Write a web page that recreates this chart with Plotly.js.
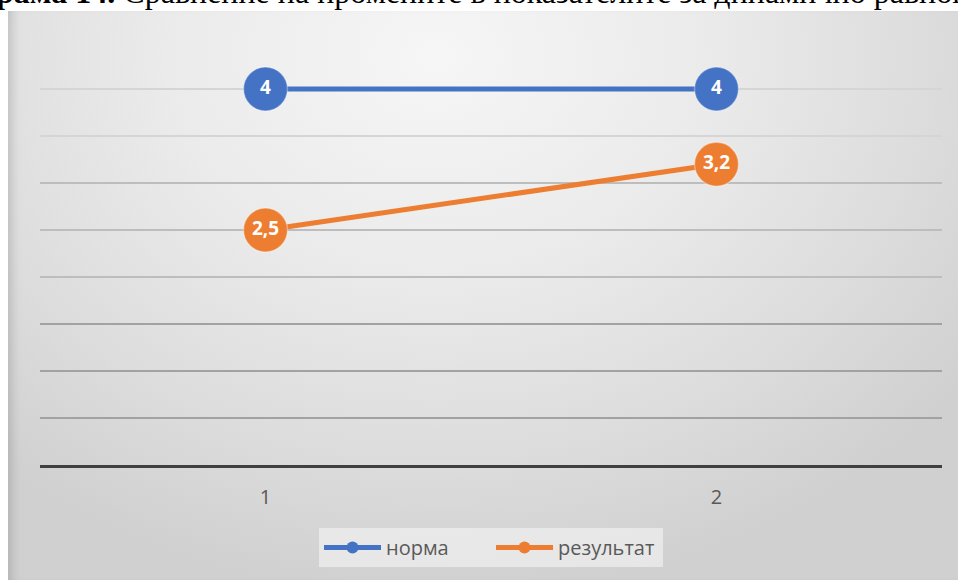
<!DOCTYPE html>
<html>
<head>
<meta charset="utf-8">
<script src="https://cdn.plot.ly/plotly-3.0.1.min.js"></script>
<style>
  html, body { margin: 0; padding: 0; background: #ffffff; }
  #wrap { position: relative; width: 958px; height: 580px; overflow: hidden; }
  #bg {
    position: absolute; left: 8px; top: 11px; width: 950px; height: 569px;
    background: radial-gradient(ellipse 70% 95% at 45% 8%, #f6f6f6 0%, #ebebeb 40%, #dcdcdc 75%, #d0d0d0 100%);
    box-shadow: inset 10px 0 10px -6px rgba(0,0,0,0.14);
  }
  #chart { position: absolute; left: 0; top: 0; width: 958px; height: 580px; }
</style>
</head>
<body>
<div id="wrap">
  <div id="bg"></div>
  <div id="chart"></div>
</div>
<script>
// ---- data ----
const categories = ['1', '2'];
const seriesNames = ['норма', 'результат'];
const normaValues = [4, 4];
const resultValues = [2.5, 3.2];
const titleBold = 'Диаграма 14.';
const titleRest = 'Сравнение на промените в показателите за динамично равновесие';

// ---- styling ----
const blue = '#4472C4';
const orange = '#ED7D31';
const fmt = v => '<b>' + String(v).replace('.', ',') + '</b>';

function seriesTrace(name, values, color) {
  return {
    type: 'scatter', mode: 'lines+markers+text',
    name: name, x: categories, y: values,
    text: values.map(fmt), textposition: 'middle center',
    textfont: { family: 'Open Sans, sans-serif', size: 19, color: '#ffffff' },
    line: { color: color, width: 5 },
    marker: { color: color, size: 44, line: { color: 'rgba(255,255,255,0.35)', width: 1.5 } },
    cliponaxis: false, showlegend: false, hoverinfo: 'skip'
  };
}
function legendTrace(name, color) {
  return {
    type: 'scatter', mode: 'lines+markers', name: name,
    x: [null], y: [null],
    line: { color: color, width: 5 },
    marker: { color: color, size: 12 },
    showlegend: true, hoverinfo: 'skip'
  };
}

const traces = [
  seriesTrace(seriesNames[0], normaValues, blue),
  seriesTrace(seriesNames[1], resultValues, orange),
  legendTrace(seriesNames[0], blue),
  legendTrace(seriesNames[1], orange)
];

const yBase = {
  range: [0, 4.5], showticklabels: false, ticks: '', zeroline: false,
  showline: false, gridwidth: 2, tickmode: 'array', fixedrange: true
};

const layout = {
  width: 958, height: 580,
  margin: { l: 40, r: 16, t: 42, b: 115 },
  paper_bgcolor: 'rgba(0,0,0,0)',
  plot_bgcolor: 'rgba(0,0,0,0)',
  font: { family: 'Open Sans, sans-serif', color: '#595959' },
  xaxis: {
    type: 'category', range: [-0.5, 1.5], showgrid: false, zeroline: false,
    showline: true, linecolor: '#404040', linewidth: 3,
    ticks: '', ticklabelstandoff: 12,
    tickfont: { family: 'Open Sans, sans-serif', size: 20, color: '#595959' }
  },
  yaxis: Object.assign({}, yBase, { tickvals: [3.5, 4, 4.5], gridcolor: '#d5d5d5' }),
  yaxis2: Object.assign({}, yBase, { overlaying: 'y', tickvals: [2, 2.5, 3], gridcolor: '#bdbdbd' }),
  yaxis3: Object.assign({}, yBase, { overlaying: 'y', tickvals: [0.5, 1, 1.5], gridcolor: '#a2a2a2' }),
  showlegend: true,
  legend: {
    orientation: 'h', x: 0.5, xanchor: 'center', y: -0.149, yanchor: 'top',
    bgcolor: 'rgba(245,245,245,0.6)', borderwidth: 0,
    font: { family: 'Open Sans, sans-serif', size: 20, color: '#595959' },
    itemwidth: 57, entrywidth: 100
  },
  annotations: [{
    xref: 'paper', yref: 'paper', x: -0.1297, y: 1, xanchor: 'left', yanchor: 'middle',
    yshift: 50, showarrow: false,
    text: '<b>' + titleBold + '</b> ' + titleRest,
    font: { family: 'Liberation Serif, Times New Roman, serif', size: 32, color: '#000000' }
  }]
};

// invisible traces so the overlay grid axes are drawn
traces.push({ type: 'scatter', x: [], y: [], yaxis: 'y2', showlegend: false, hoverinfo: 'skip' });
traces.push({ type: 'scatter', x: [], y: [], yaxis: 'y3', showlegend: false, hoverinfo: 'skip' });

Plotly.newPlot('chart', traces, layout, { displayModeBar: false, staticPlot: true });
</script>
</body>
</html>
